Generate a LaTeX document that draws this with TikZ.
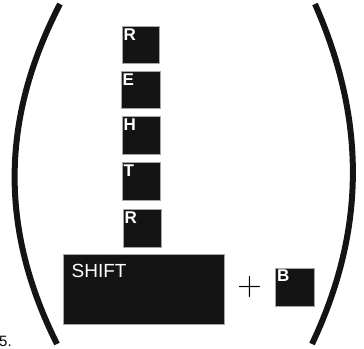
\documentclass[tikz,border=0pt]{standalone}
\usepackage{fontspec}
\setsansfont{Liberation Sans}
\begin{document}
\begin{tikzpicture}[x=1pt,y=-1pt,
  key/.style={draw=gray!70, line width=0.6pt, fill=black!92, anchor=north west, inner sep=0pt},
  keylabel/.style={text=white, font=\sffamily\bfseries\fontsize{17}{17}\selectfont, anchor=north west, inner sep=0pt},
  paren/.style={line width=6pt, draw=black!92}]
\useasboundingbox (0,0) rectangle (364,348);
\draw[paren] (60,4) .. controls (0,120) and (0,230) .. (57,344);
\draw[paren] (315,4) .. controls (366,120) and (366,230) .. (312,344);
\node[key, minimum width=37pt, minimum height=37pt] (r1) at (122,26) {};
\node[key, minimum width=39pt, minimum height=37pt] (e) at (121,71) {};
\node[key, minimum width=38pt, minimum height=38pt] (h) at (122,116) {};
\node[key, minimum width=38pt, minimum height=38pt] (t) at (122,162) {};
\node[key, minimum width=38pt, minimum height=38pt] (r2) at (123,209) {};
\node[key, minimum width=161pt, minimum height=70pt] (shift) at (63,254) {};
\node[key, minimum width=39pt, minimum height=38pt] (b) at (275,268) {};
\node[keylabel] (lr1) at ([xshift=1.5pt,yshift=-3pt]r1.north west) {R};
\node[keylabel] (le) at ([xshift=1.5pt,yshift=-3pt]e.north west) {E};
\node[keylabel] (lh) at ([xshift=1.5pt,yshift=-3pt]h.north west) {H};
\node[keylabel] (lt) at ([xshift=1.5pt,yshift=-3pt]t.north west) {T};
\node[keylabel] (lr2) at ([xshift=1.5pt,yshift=-3pt]r2.north west) {R};
\node[keylabel, font=\sffamily\fontsize{19}{19}\selectfont] (lshift) at ([xshift=8.5pt,yshift=-10pt]shift.north west) {SHIFT};
\node[keylabel] (lb) at ([xshift=2pt,yshift=-2pt]b.north west) {B};
\node[inner sep=0pt, font=\rmfamily\fontsize{34}{34}\selectfont] (plus) at (249.5,287) {+};
\node[inner sep=0pt, anchor=base west, font=\sffamily\fontsize{15}{15}\selectfont] (num) at (-1,346) {5.};
\end{tikzpicture}
\end{document}
